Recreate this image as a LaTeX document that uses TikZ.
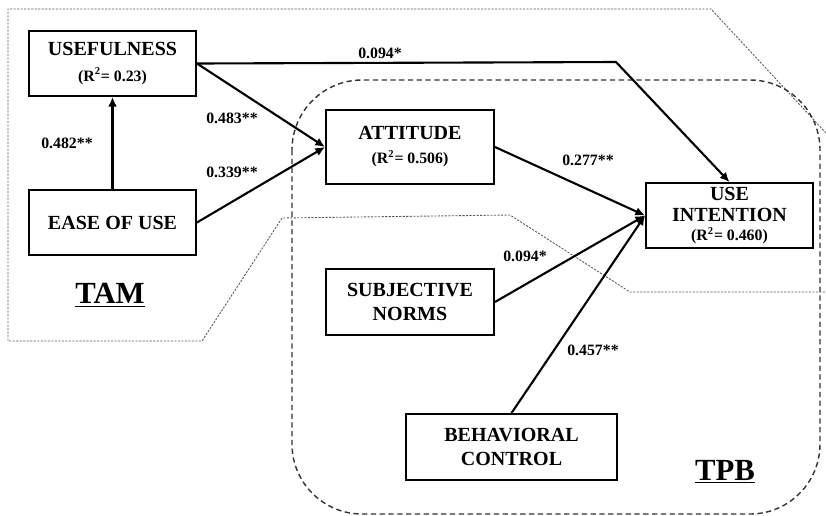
\documentclass[tikz,border=0pt]{standalone}
\usepackage{fontspec}
\setmainfont{Liberation Serif}
\usetikzlibrary{arrows.meta}
\newcommand{\rsquared}[1]{{\fontsize{9}{10}\selectfont(R\textsuperscript{2}= #1)}}

\begin{document}
\begin{tikzpicture}[x=0.02cm,y=-0.02cm,
	box/.style={rectangle,draw,line width=1.1pt,align=center,inner sep=1pt,minimum width=3.34cm,minimum height=1.3cm,font=\fontsize{11.4}{13.6}\selectfont\bfseries},
	coef/.style={font=\fontsize{9}{10}\selectfont\bfseries,inner sep=1pt},
	model/.style={font=\fontsize{17.5}{18}\selectfont\bfseries,inner sep=1pt},
	link/.style={line width=1.2pt,-{Latex[length=5.5pt,width=5pt]}},
	tamline/.style={gray!70!black,line width=0.5pt,dash pattern=on 1.2pt off 0.8pt},
	tpbline/.style={black!80,line width=0.8pt,dash pattern=on 3pt off 2pt}]
	\useasboundingbox (0,0) rectangle (826,515);
	\draw [tamline] (826,133) -- (711,9) -- (8,9) -- (8,341) -- (202,341) -- (282,218) -- (510,215) -- (630,292) -- (826,292);
	\draw [tpbline,rounded corners=1.4cm] (292,80) rectangle (820,514);
	\node (useful) at (112.5,63.5) [box] {USEFULNESS\\[1pt]\rsquared{0.23}};
	\node (ease) at (112.5,222.5) [box] {EASE OF USE};
	\node (att) at (410,147) [box,minimum width=3.36cm,minimum height=1.48cm] {ATTITUDE\\\rsquared{0.506}};
	\node (intent) at (729.5,215.5) [box] {USE\\[-1.5pt]INTENTION\\[-2.5pt]\rsquared{0.460}};
	\node (norms) at (410,302) [box,minimum width=3.36cm,minimum height=1.32cm] {SUBJECTIVE\\NORMS};
	\node (behav) at (511.5,447) [box,minimum width=4.22cm,minimum height=1.32cm] {BEHAVIORAL\\CONTROL};
	\coordinate (bend) at (616,62);
	\draw [link] (ease) -- (useful);
	\draw [link] (useful.east) -- (att.west);
	\draw [link] (ease.east) -- (att.west);
	\draw [link] (useful.east) -- (bend) -- (intent.north);
	\draw [link] (att.east) -- (intent.west);
	\draw [link] (norms.east) -- (intent.west);
	\draw [link] (behav.north) -- (intent.west);
	\node (c1) at (380,53) [coef] {0.094*};
	\node (c2) at (232,118) [coef] {0.483**};
	\node (c3) at (67,143) [coef] {0.482**};
	\node (c4) at (232,172) [coef] {0.339**};
	\node (c5) at (588,160) [coef] {0.277**};
	\node (c6) at (525,256) [coef] {0.094*};
	\node (c7) at (593,350) [coef] {0.457**};
	\node (tam) at (110,295) [model] {\underline{TAM}};
	\node (tpb) at (725,472) [model] {\underline{TPB}};
\end{tikzpicture}
\end{document}
